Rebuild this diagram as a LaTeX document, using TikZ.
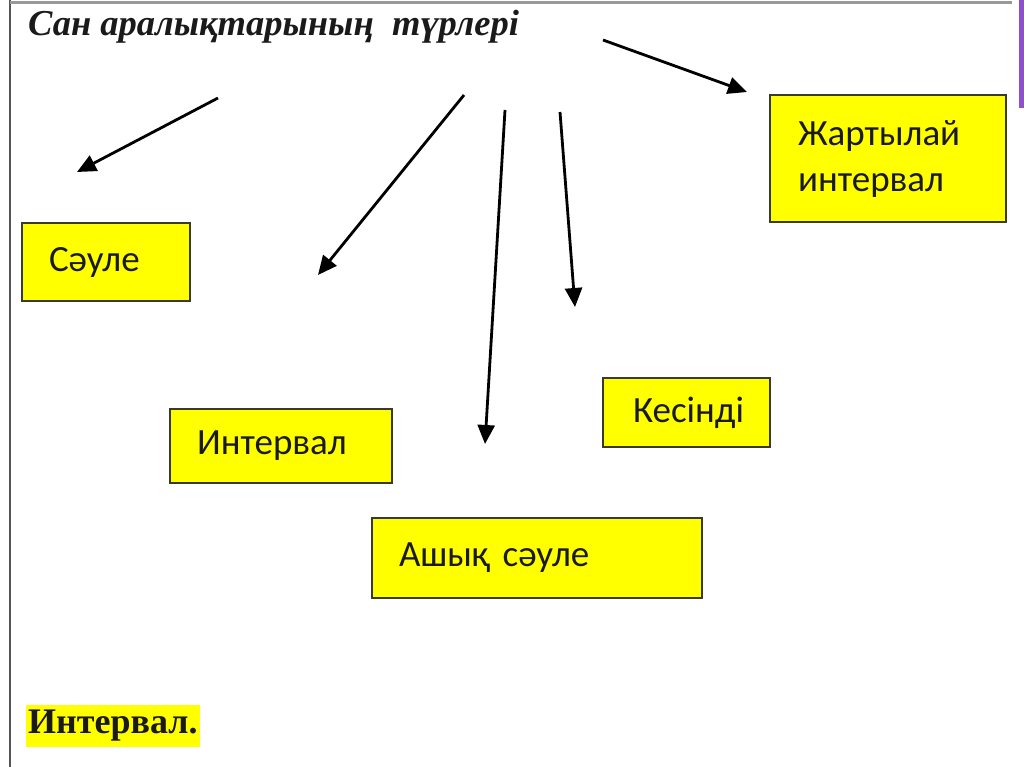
\documentclass[tikz,border=0pt]{standalone}
\usepackage{fontspec}
\setmainfont{Liberation Serif}
\newfontfamily\boxfont{Carlito}
\usetikzlibrary{arrows.meta}
\definecolor{boxyellow}{HTML}{FFFF00}
\definecolor{boxedge}{HTML}{3A3A2A}
\definecolor{framegray}{HTML}{555555}
\definecolor{barpurple}{HTML}{8E50CC}
\definecolor{txt}{HTML}{1A1A1A}
\tikzset{
  ybox/.style={draw=boxedge, line width=2pt, fill=boxyellow, anchor=north west, text=txt,
    align=left, font=\boxfont\fontsize{37}{46}\selectfont, inner ysep=0pt},
  arr/.style={line width=2.8pt, -{Triangle[length=19pt,width=17pt]}},
}
\begin{document}
\begin{tikzpicture}[x=1pt,y=-1pt]
\useasboundingbox (0,0) rectangle (1024,767);
\fill[white] (0,0) rectangle (1024,767);
% frame lines
\draw[framegray, line width=2pt] (10,0) -- (10,767);
\draw[gray!80, line width=3pt] (10,3) -- (1012,3);
\fill[barpurple] (1019,0) rectangle (1024,108);
% title
\node[anchor=west, inner sep=0pt, text=txt, font=\fontsize{36.5}{42}\selectfont\bfseries\itshape] (title) at (28,27) {Сан аралықтарының\ \ түрлері};
% boxes
\node[ybox, inner xsep=27pt, text width=114pt, minimum height=78pt] (saule) at (21,222) {Сәуле};
\node[ybox, inner xsep=28pt, text width=180pt, minimum height=127pt] (zhart) at (769,94) {Жартылай\\интервал};
\node[ybox, inner xsep=27pt, text width=168pt, minimum height=74pt] (interval) at (169,408) {Интервал};
\node[ybox, inner xsep=30pt, text width=107pt, minimum height=69pt] (kesindi) at (602,377) {Кесінді};
\node[ybox, inner xsep=27pt, text width=276pt, minimum height=80pt] (ashyk) at (371,517) {Ашық сәуле};
% bottom label
\node[anchor=west, fill=boxyellow, inner xsep=2pt, inner ysep=5pt, text=txt, font=\fontsize{36}{40}\selectfont\bfseries] (intlabel) at (26,726) {Интервал.};
% arrow endpoints
\coordinate (a1s) at (218,98);  \coordinate (a1e) at (77,172);
\coordinate (a2s) at (464,95);  \coordinate (a2e) at (318,275);
\coordinate (a3s) at (505,110); \coordinate (a3e) at (485,444);
\coordinate (a4s) at (560,112); \coordinate (a4e) at (575,307);
\coordinate (a5s) at (603,40);  \coordinate (a5e) at (747,92);
\draw[arr] (a1s) -- (a1e);
\draw[arr] (a2s) -- (a2e);
\draw[arr] (a3s) -- (a3e);
\draw[arr] (a4s) -- (a4e);
\draw[arr] (a5s) -- (a5e);
\end{tikzpicture}
\end{document}
